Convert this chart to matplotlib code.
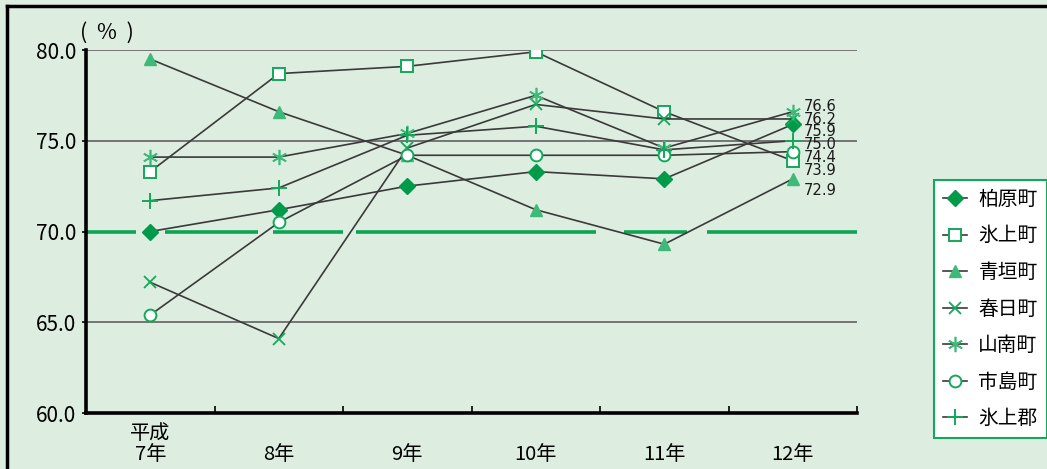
import matplotlib
matplotlib.use("Agg")
import matplotlib.pyplot as plt
from matplotlib.lines import Line2D

# ---- data -------------------------------------------------------------
years = ["平成\n7年", "8年", "9年", "10年", "11年", "12年"]
towns = ["柏原町", "氷上町", "青垣町", "春日町", "山南町", "市島町", "氷上郡"]

kaibara = [70.0, 71.2, 72.5, 73.3, 72.9, 75.9]
hikami_cho = [73.3, 78.7, 79.1, 79.9, 76.6, 73.9]
aogaki = [79.5, 76.6, 74.2, 71.2, 69.3, 72.9]
kasuga = [67.2, 64.1, 74.6, 77.0, 76.2, 76.2]
sannan = [74.1, 74.1, 75.4, 77.5, 74.6, 76.6]
ichijima = [65.4, 70.5, 74.2, 74.2, 74.2, 74.4]
hikami_gun = [71.7, 72.4, 75.3, 75.8, 74.5, 75.0]

reference_level = 70.0
y_ticks = [60.0, 65.0, 70.0, 75.0, 80.0]

series = [kaibara, hikami_cho, aogaki, kasuga, sannan, ichijima, hikami_gun]

# ---- style ------------------------------------------------------------
BG = "#ddede0"
DARK_GREEN = "#009a48"
GREEN = "#13a85a"
LIGHT_GREEN = "#3dba78"
LINE = "#3a3a3a"

styles = [
    dict(marker="D", ms=8.5, mfc=DARK_GREEN, mec=DARK_GREEN, mew=1.0),
    dict(marker="s", ms=8.5, mfc="white", mec=GREEN, mew=1.4),
    dict(marker="^", ms=8, mfc=LIGHT_GREEN, mec=LIGHT_GREEN, mew=1.0),
    dict(marker="x", ms=8.5, mfc="none", mec=GREEN, mew=1.3),
    dict(marker=(6, 2, 0), ms=11, mfc="none", mec=LIGHT_GREEN, mew=1.2),
    dict(marker="o", ms=8.5, mfc="white", mec=GREEN, mew=1.4),
    dict(marker="+", ms=12, mfc="none", mec=GREEN, mew=1.4),
]

# downward nudges (points) for the end-of-line value labels, so they don't collide
label_nudge = [5.3, 6.7, 8.5, 0.4, -4.1, 4.4, 2.6]

plt.rcParams["font.family"] = ["Noto Sans CJK JP", "DejaVu Sans"]
plt.rcParams["lines.scale_dashes"] = False

fig = plt.figure(figsize=(10.47, 4.69), dpi=100, facecolor=BG)
W, H = 1047, 469
ax = fig.add_axes([86 / W, 1 - 413 / H, (857 - 86) / W, (413 - 50) / H])
ax.set_facecolor(BG)

x = [i + 0.5 for i in range(len(years))]
ax.set_xlim(0, len(years))
ax.set_ylim(60, 80)

# horizontal guide lines
for yv in y_ticks[1:]:
    if yv == reference_level:
        continue
    ax.axhline(yv, color="#6b6b6b", lw=1.3, zorder=1)

# reference line at 70%
px = 0.72
ax.axhline(reference_level, color="#0aa552", lw=2.6, solid_capstyle="butt",
           dash_capstyle="butt", zorder=1.5,
           linestyle=(0, (50 * px, 29 * px, 93 * px, 15 * px, 70 * px, 13 * px,
                          240 * px, 28 * px, 63 * px, 20 * px, 150 * px, 40 * px)))

handles = []
for name, vals, st in zip(towns, series, styles):
    ax.plot(x, vals, color=LINE, lw=1.2, zorder=3, **st)
    handles.append(Line2D([], [], color=LINE, lw=1.2, label=name, **st))

# value labels at the last year
for vals, dy in zip(series, label_nudge):
    ax.annotate(f"{vals[-1]:.1f}", xy=(x[-1], vals[-1]), xytext=(8, -dy),
                textcoords="offset points", ha="left", va="center",
                fontsize=10.6, family="DejaVu Sans", color="#1a1a1a", zorder=5)

# axes
for side in ("top", "right"):
    ax.spines[side].set_visible(False)
for side in ("left", "bottom"):
    ax.spines[side].set_linewidth(2.6)
    ax.spines[side].set_color("black")

ax.set_yticks(y_ticks)
ax.set_yticklabels([f"{v:.1f}" for v in y_ticks], fontsize=15)
ax.tick_params(axis="y", direction="out", length=3, width=1.2, pad=4)

ax.set_xticks(x)
ax.set_xticklabels([lbl if "\n" in lbl else "\n" + lbl for lbl in years],
                   fontsize=14.5, linespacing=1.0)
ax.tick_params(axis="x", which="major", length=0, pad=7)
ax.set_xticks(range(1, len(years) + 1), minor=True)
ax.tick_params(axis="x", which="minor", direction="in", length=5, width=1.2)

fig.text(80 / W, 1 - 33 / H, "(  %  )", fontsize=15.5, va="center", ha="left")

leg = fig.legend(handles=handles, loc="upper left",
                 bbox_to_anchor=(934 / W, 1 - 180 / H), fontsize=14.2,
                 frameon=True, fancybox=False, handlelength=1.2,
                 handletextpad=0.6, labelspacing=0.79, borderpad=0.45,
                 borderaxespad=0)
leg.get_frame().set_edgecolor(GREEN)
leg.get_frame().set_linewidth(1.5)
leg.get_frame().set_facecolor("white")
leg.get_frame().set_alpha(1)

# outer frame (top and left edges)
fig.add_artist(Line2D([7 / W, 7 / W], [0, 1 - 6 / H], transform=fig.transFigure,
                      color="black", lw=2.5))
fig.add_artist(Line2D([7 / W, 1], [1 - 6 / H, 1 - 6 / H], transform=fig.transFigure,
                      color="black", lw=2.5))

fig.savefig("out.png", dpi=100, facecolor=BG)
